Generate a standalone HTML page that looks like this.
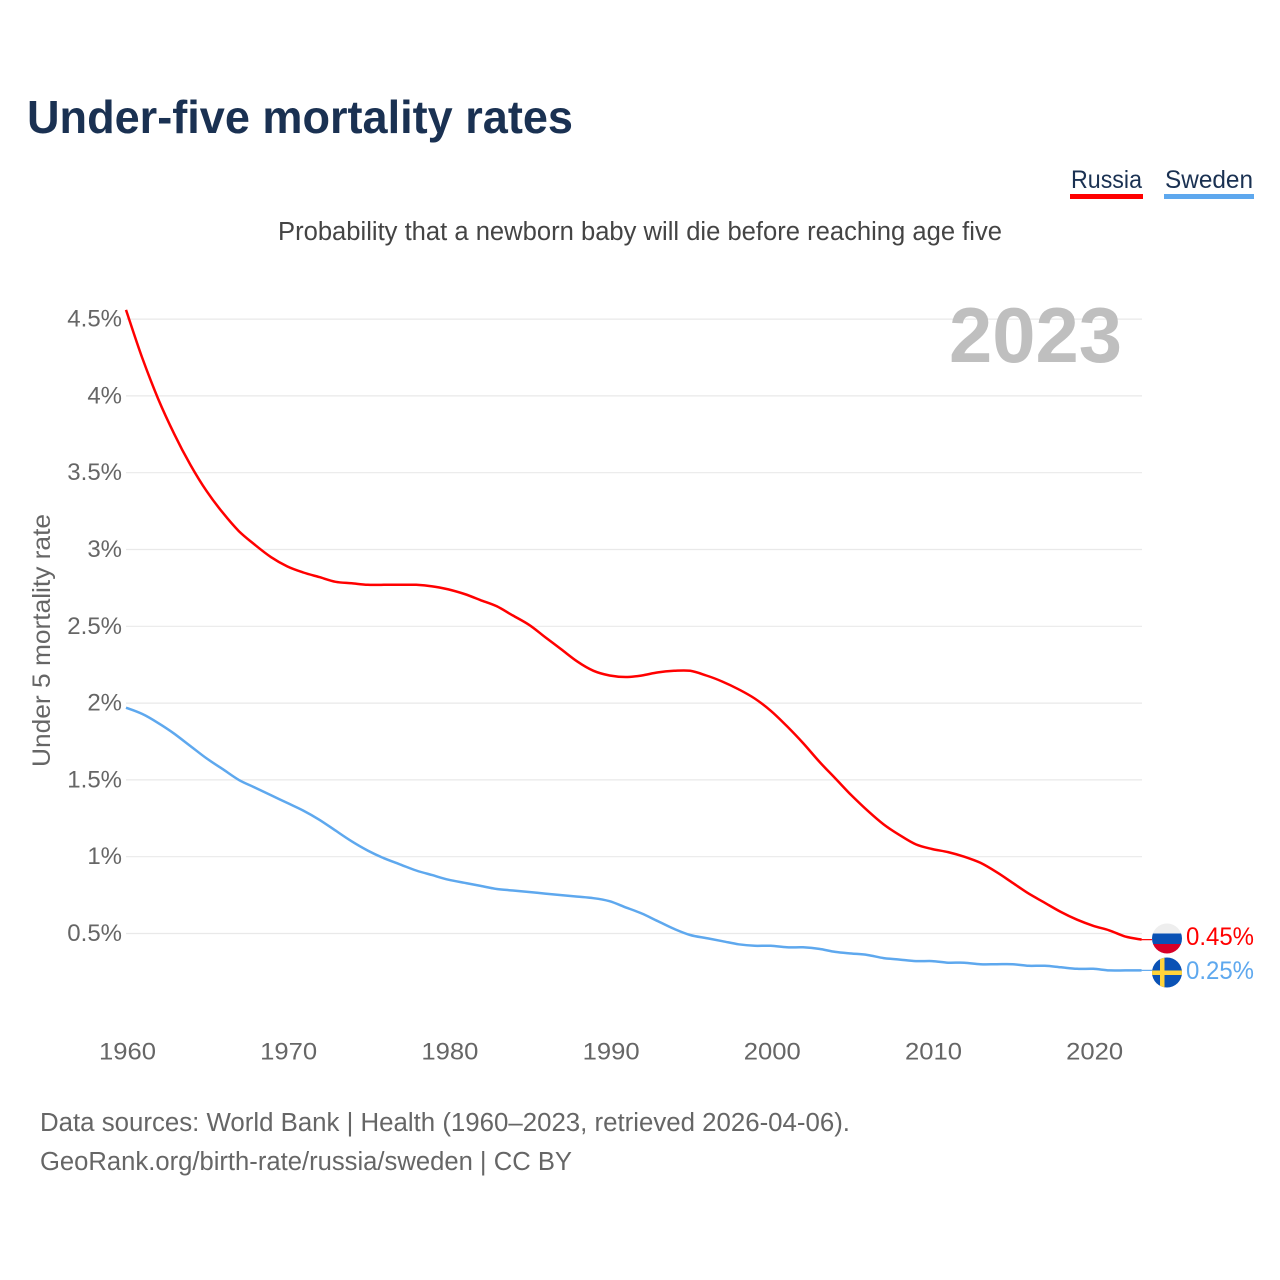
<!DOCTYPE html>
<html lang="en">
<head>
<meta charset="utf-8">
<title>Under-five mortality rates</title>
<style>
html,body{margin:0;padding:0;background:#fff;}
svg{display:block;}
text{font-family:"Liberation Sans",sans-serif;}
</style>
</head>
<body>
<svg id="chart" width="1280" height="1280" viewBox="0 0 1280 1280" xmlns="http://www.w3.org/2000/svg">
  <rect width="1280" height="1280" fill="#ffffff"/>
  <text x="27" y="133" font-size="46" font-weight="700" fill="#1a3152" textLength="546" lengthAdjust="spacingAndGlyphs">Under-five mortality rates</text>
  <g>
    <text x="1071" y="188" font-size="25" fill="#1a3152" textLength="71" lengthAdjust="spacingAndGlyphs">Russia</text>
    <rect x="1070" y="194" width="73" height="5" fill="#ff0000"/>
  </g>
  <g>
    <text x="1165" y="188" font-size="25" fill="#1a3152" textLength="88" lengthAdjust="spacingAndGlyphs">Sweden</text>
    <rect x="1164" y="194" width="90" height="5" fill="#5ea8ee"/>
  </g>
  <text x="278" y="240" font-size="25.5" fill="#444444" textLength="724" lengthAdjust="spacingAndGlyphs">Probability that a newborn baby will die before reaching age five</text>
  <g id="grid"></g>
  <text x="949" y="362" font-size="78" font-weight="700" fill="#bfbfbf" textLength="173" lengthAdjust="spacingAndGlyphs">2023</text>
  <g id="y-ticks"></g>
  <g id="x-ticks"></g>
  <text transform="translate(50,640.5) rotate(-90)" text-anchor="middle" font-size="25" fill="#666666" textLength="253" lengthAdjust="spacingAndGlyphs">Under 5 mortality rate</text>
  <g id="series"></g>
  <g>
    <clipPath id="clip-ru"><circle cx="1167" cy="938.5" r="15"/></clipPath>
    <g clip-path="url(#clip-ru)">
      <rect x="1152" y="923" width="30" height="11" fill="#eeeeee"/>
      <rect x="1152" y="933.5" width="30" height="11" fill="#0a52b5"/>
      <rect x="1152" y="944" width="30" height="11" fill="#d80027"/>
    </g>
    <text x="1186" y="945" font-size="25" fill="#ff0000" textLength="68" lengthAdjust="spacingAndGlyphs">0.45%</text>
  </g>
  <g>
    <clipPath id="clip-se"><circle cx="1167" cy="972.5" r="15"/></clipPath>
    <g clip-path="url(#clip-se)">
      <rect x="1152" y="957" width="30" height="31" fill="#0a52b5"/>
      <rect x="1160" y="957" width="4.5" height="31" fill="#ffd43a"/>
      <rect x="1152" y="970.5" width="30" height="4.5" fill="#ffd43a"/>
    </g>
    <text x="1186" y="979" font-size="25" fill="#5ea8ee" textLength="68" lengthAdjust="spacingAndGlyphs">0.25%</text>
  </g>
  <text x="40" y="1131" font-size="25.5" fill="#666666" textLength="810" lengthAdjust="spacingAndGlyphs">Data sources: World Bank | Health (1960–2023, retrieved 2026-04-06).</text>
  <a><text x="40" y="1170" font-size="25.5" fill="#666666" textLength="532" lengthAdjust="spacingAndGlyphs">GeoRank.org/birth-rate/russia/sweden | CC BY</text></a>
</svg>
<script>
const years = [1960,1961,1962,1963,1964,1965,1966,1967,1968,1969,1970,1971,1972,1973,1974,1975,1976,1977,1978,1979,1980,1981,1982,1983,1984,1985,1986,1987,1988,1989,1990,1991,1992,1993,1994,1995,1996,1997,1998,1999,2000,2001,2002,2003,2004,2005,2006,2007,2008,2009,2010,2011,2012,2013,2014,2015,2016,2017,2018,2019,2020,2021,2022,2023];
const russiaValues = [4.56,4.25,3.98,3.75,3.55,3.38,3.24,3.12,3.03,2.95,2.89,2.85,2.82,2.79,2.78,2.77,2.77,2.77,2.77,2.76,2.74,2.71,2.67,2.63,2.57,2.51,2.43,2.35,2.27,2.21,2.18,2.17,2.18,2.2,2.21,2.21,2.18,2.14,2.09,2.03,1.95,1.85,1.74,1.62,1.51,1.4,1.3,1.21,1.14,1.08,1.05,1.03,1,0.96,0.9,0.83,0.76,0.7,0.64,0.59,0.55,0.52,0.48,0.46];
const swedenValues = [1.97,1.93,1.87,1.8,1.72,1.64,1.57,1.5,1.45,1.4,1.35,1.3,1.24,1.17,1.1,1.04,0.99,0.95,0.91,0.88,0.85,0.83,0.81,0.79,0.78,0.77,0.76,0.75,0.74,0.73,0.71,0.67,0.63,0.58,0.53,0.49,0.47,0.45,0.43,0.42,0.42,0.41,0.41,0.4,0.38,0.37,0.36,0.34,0.33,0.32,0.32,0.31,0.31,0.3,0.3,0.3,0.29,0.29,0.28,0.27,0.27,0.26,0.26,0.26];
const yTickValues = [0.5,1,1.5,2,2.5,3,3.5,4,4.5];
const yTickLabels = ["0.5%","1%","1.5%","2%","2.5%","3%","3.5%","4%","4.5%"];
const xTickYears = [1960,1970,1980,1990,2000,2010,2020];

const NS = "http://www.w3.org/2000/svg";
function xScale(year) { return 126 + (year - 1960) * 16.12; }
function yScale(value) { return 1010.3 - value * 153.6; }
function make(tag, attrs, parent) {
  const el = document.createElementNS(NS, tag);
  for (const k in attrs) el.setAttribute(k, attrs[k]);
  parent.appendChild(el);
  return el;
}

const gridGroup = document.getElementById("grid");
const yTickGroup = document.getElementById("y-ticks");
yTickValues.forEach(function (v, i) {
  const line = make("line", {x1: 126, x2: 1142, y1: yScale(v), y2: yScale(v), stroke: "#e9e9e9", "stroke-width": 1.2}, gridGroup);
  
  
  const label = make("text", {x: 122, y: yScale(v) + 7.5, "text-anchor": "end", "font-size": 24, fill: "#666666"}, yTickGroup);
  
  
  label.textContent = yTickLabels[i];
});

const xTickGroup = document.getElementById("x-ticks");
xTickYears.forEach(function (yr) {
  const label = make("text", {x: xScale(yr) + 1.5, y: 1059.5, "text-anchor": "middle", "font-size": 24.5, fill: "#666666", textLength: 57, lengthAdjust: "spacingAndGlyphs"}, xTickGroup);
  
  
  label.textContent = String(yr);
});

const seriesGroup = document.getElementById("series");
function smoothPath(values) {
  const px = values.map(function (v, i) { return xScale(years[i]); });
  const py = values.map(function (v) { return yScale(v); });
  let d = "M" + px[0].toFixed(1) + "," + py[0].toFixed(1);
  for (let i = 0; i < values.length - 1; i++) {
    const prev = Math.max(i - 1, 0);
    const next = Math.min(i + 2, values.length - 1);
    const c1x = px[i] + (px[i + 1] - px[prev]) / 6;
    const c1y = py[i] + (py[i + 1] - py[prev]) / 6;
    const c2x = px[i + 1] - (px[next] - px[i]) / 6;
    const c2y = py[i + 1] - (py[next] - py[i]) / 6;
    d += "C" + c1x.toFixed(1) + "," + c1y.toFixed(1) + " " + c2x.toFixed(1) + "," + c2y.toFixed(1) + " " + px[i + 1].toFixed(1) + "," + py[i + 1].toFixed(1);
  }
  return d;
}
function drawSeries(values, color, name) {
  const line = make("path", {d: smoothPath(values), fill: "none", stroke: color, "stroke-width": 2.5, "stroke-linejoin": "round"}, seriesGroup);
  
  
  const last = values[values.length - 1];
  const connector = make("line", {x1: xScale(years[years.length - 1]), x2: 1152, y1: yScale(last), y2: yScale(last), stroke: color, "stroke-width": 1.2}, seriesGroup);
  
  
}
drawSeries(russiaValues, "#ff0000", "russia-line");
drawSeries(swedenValues, "#5ea8ee", "sweden-line");
</script>
</body>
</html>
